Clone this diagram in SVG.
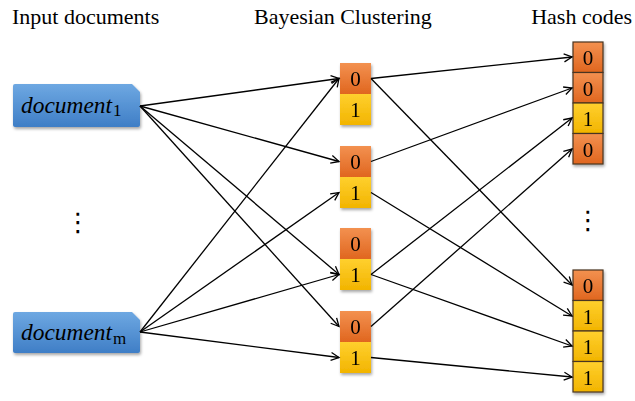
<svg xmlns="http://www.w3.org/2000/svg" width="635" height="401" viewBox="0 0 635 401">
<defs>
<linearGradient id="gBlue" x1="0" y1="0" x2="0" y2="1"><stop offset="0" stop-color="#6ea8e2"/><stop offset="1" stop-color="#3f7ec6"/></linearGradient>
<linearGradient id="gOr" x1="0" y1="0" x2="0" y2="1"><stop offset="0" stop-color="#f39150"/><stop offset="1" stop-color="#e0661f"/></linearGradient>
<linearGradient id="gYe" x1="0" y1="0" x2="0" y2="1"><stop offset="0" stop-color="#ffd02e"/><stop offset="1" stop-color="#f2b400"/></linearGradient>
<filter id="sh" x="-20%" y="-20%" width="140%" height="150%"><feDropShadow dx="1" dy="2" stdDeviation="1.5" flood-color="#000" flood-opacity="0.35"/></filter>
<marker id="arr" markerUnits="userSpaceOnUse" markerWidth="12" markerHeight="12" refX="9" refY="5" orient="auto"><path d="M1,1 L9,5 L1,9" fill="none" stroke="#000" stroke-width="1.3"/></marker>
<style>
.title{font-family:"Liberation Serif","Times New Roman",serif;font-size:22px;fill:#000}
.doc{font-family:"Liberation Serif","Times New Roman",serif;font-size:24px;font-style:italic;fill:#000}
.sub{font-family:"Liberation Serif","Times New Roman",serif;font-size:17px;font-style:normal}
.bit{font-family:"Liberation Serif","Times New Roman",serif;font-size:21px;fill:#000;text-anchor:middle}
.o{fill:url(#gOr)}
.y{fill:url(#gYe)}
.hb{stroke:#4a3520;stroke-width:1.2}
.dots{font-family:"DejaVu Sans",sans-serif;font-size:26px;fill:#000;text-anchor:middle}
.c line{stroke:#000;stroke-width:1.3;marker-end:url(#arr)}
</style>
</defs>
<rect width="635" height="401" fill="#fff"/>
<text class="title" x="12" y="24">Input documents</text>
<text class="title" x="254" y="24">Bayesian Clustering</text>
<text class="title" x="632" y="24" text-anchor="end">Hash codes</text>

<g id="doc1">
<path d="M13,86 Q13,84 15,84 H132 L140,92 V125 Q140,127 138,127 H15 Q13,127 13,125 Z" fill="url(#gBlue)" filter="url(#sh)"/>
<text class="doc" x="21" y="113" textLength="91" lengthAdjust="spacingAndGlyphs">document</text>
<text class="doc sub" x="113" y="116">1</text>
</g>
<g id="docm">
<path d="M13,314 Q13,312 15,312 H132 L140,320 V351 Q140,353 138,353 H15 Q13,353 13,351 Z" fill="url(#gBlue)" filter="url(#sh)"/>
<text class="doc" x="21" y="340" textLength="91" lengthAdjust="spacingAndGlyphs">document</text>
<text class="doc sub" x="113" y="344">m</text>
</g>
<text id="dots1" class="dots" x="78" y="231">⋮</text>
<text id="dots2" class="dots" x="588" y="229">⋮</text>

<g id="cluster1" filter="url(#sh)">
<rect class="o" x="340" y="63" width="31" height="31"/><rect class="y" x="340" y="94" width="31" height="31"/>
<text class="bit" x="355.5" y="86">0</text><text class="bit" x="355.5" y="117">1</text>
</g>
<g id="cluster2" filter="url(#sh)">
<rect class="o" x="340" y="146" width="31" height="31"/><rect class="y" x="340" y="177" width="31" height="31"/>
<text class="bit" x="355.5" y="169">0</text><text class="bit" x="355.5" y="200">1</text>
</g>
<g id="cluster3" filter="url(#sh)">
<rect class="o" x="340" y="228" width="31" height="31"/><rect class="y" x="340" y="259" width="31" height="31"/>
<text class="bit" x="355.5" y="251">0</text><text class="bit" x="355.5" y="282">1</text>
</g>
<g id="cluster4" filter="url(#sh)">
<rect class="o" x="340" y="311" width="31" height="31"/><rect class="y" x="340" y="342" width="31" height="31"/>
<text class="bit" x="355.5" y="334">0</text><text class="bit" x="355.5" y="365">1</text>
</g>

<g id="hash1" filter="url(#sh)">
<rect class="o hb" x="573" y="42" width="30" height="30.5"/>
<rect class="o hb" x="573" y="72.5" width="30" height="30.5"/>
<rect class="y hb" x="573" y="103" width="30" height="30.5"/>
<rect class="o hb" x="573" y="133.5" width="30" height="30.5"/>
<text class="bit" x="588" y="65">0</text><text class="bit" x="588" y="95.5">0</text><text class="bit" x="588" y="126">1</text><text class="bit" x="588" y="156.5">0</text>
</g>
<g id="hashm" filter="url(#sh)">
<rect class="o hb" x="573" y="270" width="30" height="30.5"/>
<rect class="y hb" x="573" y="300.5" width="30" height="30.5"/>
<rect class="y hb" x="573" y="331" width="30" height="30.5"/>
<rect class="y hb" x="573" y="361.5" width="30" height="30.5"/>
<text class="bit" x="588" y="293">0</text><text class="bit" x="588" y="323.5">1</text><text class="bit" x="588" y="354">1</text><text class="bit" x="588" y="384.5">1</text>
</g>

<g id="connectors" class="c">
<line x1="140" y1="106" x2="339" y2="78.5"/>
<line x1="140" y1="106" x2="339" y2="161.5"/>
<line x1="140" y1="106" x2="339" y2="274.5"/>
<line x1="140" y1="106" x2="339" y2="326.5"/>
<line x1="140" y1="332" x2="339" y2="78.5"/>
<line x1="140" y1="332" x2="339" y2="192.5"/>
<line x1="140" y1="332" x2="339" y2="274.5"/>
<line x1="140" y1="332" x2="339" y2="357.5"/>
<line x1="371" y1="78.5" x2="572" y2="57"/>
<line x1="371" y1="78.5" x2="572" y2="285"/>
<line x1="371" y1="161.5" x2="572" y2="88"/>
<line x1="371" y1="192.5" x2="572" y2="316"/>
<line x1="371" y1="274.5" x2="572" y2="118"/>
<line x1="371" y1="274.5" x2="572" y2="346"/>
<line x1="371" y1="326.5" x2="572" y2="149"/>
<line x1="371" y1="357.5" x2="572" y2="377"/>
</g>
</svg>
